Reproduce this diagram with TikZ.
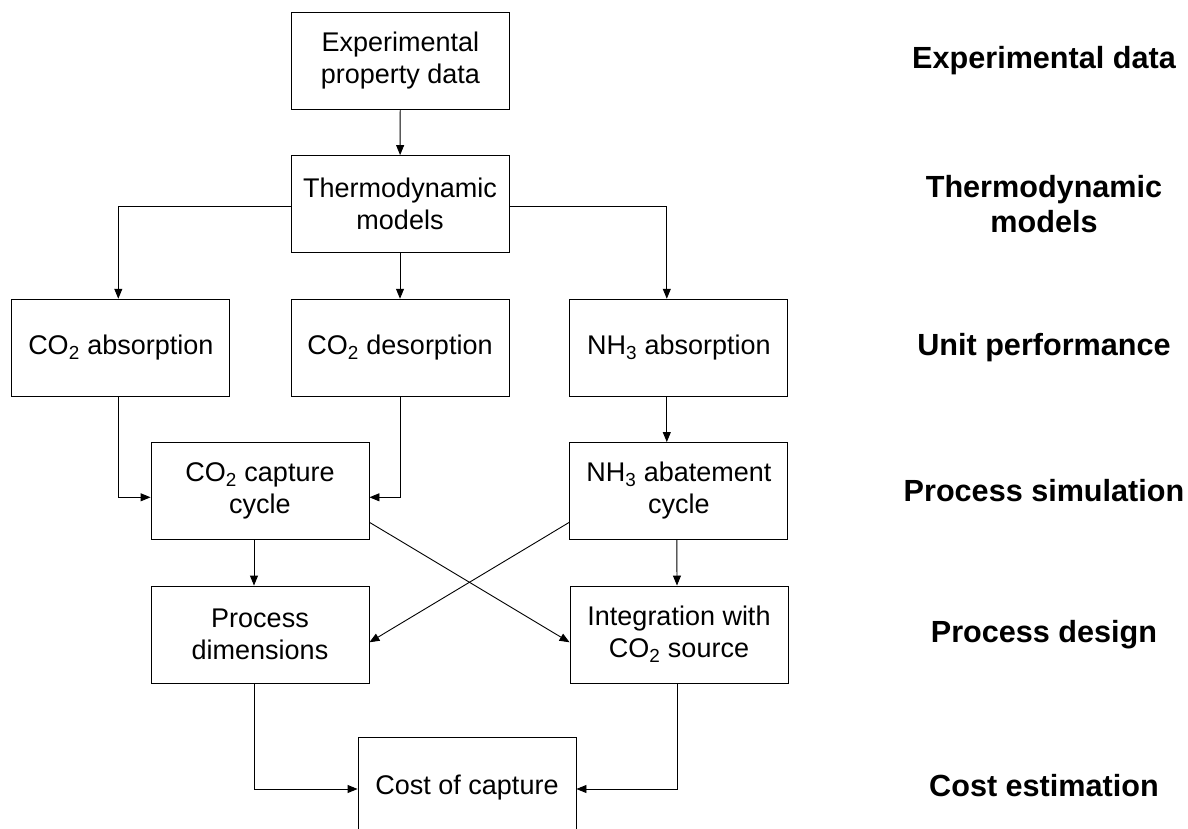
\documentclass[tikz,border=0pt]{standalone}
\usepackage{fontspec}
\setmainfont{Liberation Sans}
\usetikzlibrary{arrows.meta}
\begin{document}
\begin{tikzpicture}[x=1pt,y=-1pt,
  box/.style={draw=black, line width=0.9pt, minimum width=218pt, minimum height=97pt,
    inner sep=0pt, align=center, font=\fontsize{27}{32}\selectfont},
  lab/.style={align=center, font=\fontsize{30.6}{35}\selectfont\bfseries},
  arr/.style={draw=black, line width=0.9pt, -{Triangle[length=10pt,width=8pt]}}]
\clip (0,0) rectangle (1188,829);
\fill[white] (0,0) rectangle (1188,829);
% boxes
\node[box] (exp)    at (400.3,61)   {Experimental\\property data};
\node[box] (thermo) at (400,204)    {Thermodynamic\\models};
\node[box] (abs)    at (120.8,347.7){CO\textsubscript{2} absorption};
\node[box] (des)    at (400,347.7)  {CO\textsubscript{2} desorption};
\node[box] (nh3)    at (678.8,347.7){NH\textsubscript{3} absorption};
\node[box] (cap)    at (260,491)    {CO\textsubscript{2} capture\\cycle};
\node[box] (abate)  at (678.8,491)  {NH\textsubscript{3} abatement\\cycle};
\node[box] (dims)   at (260,634.5)  {Process\\dimensions};
\node[box] (integ)  at (679,634.5)  {Integration with\\CO\textsubscript{2} source};
\node[box, minimum height=100pt] (cost) at (467,787.5) {Cost of capture};
% level labels
\node[lab] (l1) at (1044,61)    {Experimental data};
\node[lab] (l2) at (1044,204)   {Thermodynamic\\models};
\node[lab] (l3) at (1044,347.7) {Unit performance};
\node[lab] (l4) at (1044,491)   {Process simulation};
\node[lab] (l5) at (1044,634.5) {Process design};
\node[lab] (l6) at (1044,786)   {Cost estimation};
% connectors
\draw[arr] (exp) -- (thermo);
\draw[arr] ([yshift=-2.7pt]thermo.west) -| ([xshift=-2.5pt]abs.north);
\draw[arr] (thermo) -- (des);
\draw[arr] ([yshift=-2.7pt]thermo.east) -| ([xshift=-12pt]nh3.north);
\draw[arr] ([xshift=-2.5pt]abs.south) |- ([yshift=-6.3pt]cap.west);
\draw[arr] (des.south) |- ([yshift=-6.3pt]cap.east);
\draw[arr] ([xshift=-12pt]nh3.south) -- ([xshift=-12pt]abate.north);
\draw[arr] ([xshift=-6pt]cap.south) -- ([xshift=-6pt]dims.north);
\draw[arr] ([xshift=-2pt]abate.south) -- ([xshift=-2pt]integ.north);
\draw[arr] ([yshift=-31.3pt]cap.east) -- ([yshift=-7.8pt]integ.west);
\draw[arr] ([yshift=-31.3pt]abate.west) -- ([yshift=-7.8pt]dims.east);
\draw[arr] ([xshift=-6pt]dims.south) |- ([yshift=-1.5pt]cost.west);
\draw[arr] ([xshift=-2pt]integ.south) |- ([yshift=-1.5pt]cost.east);
\end{tikzpicture}
\end{document}
